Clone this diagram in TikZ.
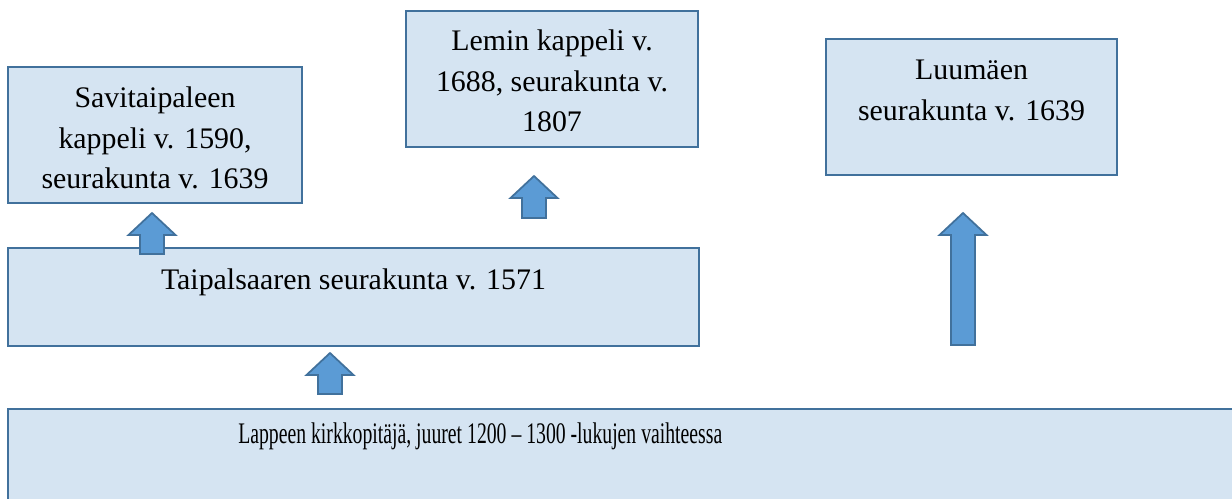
\documentclass[tikz,border=0pt]{standalone}
\usepackage{fontspec}
\usepackage{graphicx}
\setmainfont{Liberation Serif}
\usetikzlibrary{positioning}

\definecolor{boxfill}{RGB}{213,228,242}
\definecolor{boxline}{RGB}{65,113,156}
\definecolor{arrfill}{RGB}{91,155,213}

\begin{document}
\begin{tikzpicture}[x=0.02cm,y=-0.02cm,
	box/.style={rectangle,draw=boxline,fill=boxfill,line width=1.2pt,inner sep=0pt,anchor=north west},
	boxtext/.style={inner sep=0pt,align=center,font=\fontsize{17}{23.3}\selectfont},
	uparrow/.style={draw=boxline,fill=arrfill,line width=1pt}]
	\useasboundingbox (0,0) rectangle (1232,498);
	
	%boxes
	\node[box,minimum width=5.88cm,minimum height=2.72cm] (savi) at (7,66) {};
	\node[box,minimum width=5.84cm,minimum height=2.72cm] (lemi) at (405,10) {};
	\node[box,minimum width=5.82cm,minimum height=2.72cm] (luum) at (825,38) {};
	\node[box,minimum width=13.82cm,minimum height=1.96cm] (taip) at (7,247) {};
	\node[box,minimum width=24.9cm,minimum height=2cm] (lapp) at (7,408) {};
	
	%arrows
	\foreach \cx/\tip/\bot in {152/213/254,534/176/218,330/353/394,963/213/345}
		\draw[uparrow] (\cx-12,\bot) -- (\cx-12,\tip+22) -- (\cx-23.5,\tip+22) -- (\cx,\tip)
			-- (\cx+23.5,\tip+22) -- (\cx+12,\tip+22) -- (\cx+12,\bot) -- cycle;
	
	%labels
	\node[boxtext,below=0.4cm of savi.north] (savitext) {Savitaipaleen\\kappeli v. 1590,\\seurakunta v. 1639};
	\node[boxtext,below=0.38cm of lemi.north] (lemitext) {Lemin kappeli v.\\1688, seurakunta v.\\1807};
	\node[boxtext,below=0.44cm of luum.north] (luumtext) {Luumäen\\seurakunta v. 1639};
	\node[boxtext,below=0.42cm of taip.north] (taiptext) {Taipalsaaren seurakunta v. 1571};
	\node[boxtext,below right=0.28cm and 4.62cm of lapp.north west] (lapptext)
		{\scalebox{0.66}[1]{Lappeen kirkkopitäjä, juuret 1200 -- 1300 -lukujen vaihteessa}};
\end{tikzpicture}
\end{document}
